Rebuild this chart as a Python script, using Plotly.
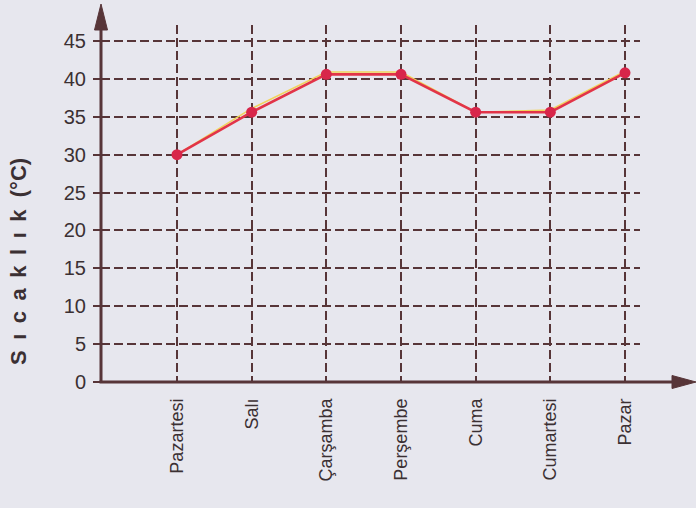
import plotly.graph_objects as go

days = ["Pazartesi", "Salı", "Çarşamba", "Perşembe", "Cuma", "Cumartesi", "Pazar"]
temps = [30, 35.6, 40.6, 40.6, 35.6, 35.6, 40.8]
yellow_offset = [0.0, 0.5, 0.3, 0.3, 0.0, 0.3, 0.2]
y_ticks = [0, 5, 10, 15, 20, 25, 30, 35, 40, 45]
y_title_letters = ["S", "ı", "c", "a", "k", "l", "ı", "k", "(°C)"]

BG = "#e7e7ee"
AX = "#573538"
TXT = "#3b3033"

# plot area in pixels
L, R, T, B = 101, 640, 25, 382
W, H = R - L, B - T

def px(x):
    return (x - L) / W

def py(y):
    return (B - y) / H

fig = go.Figure()
fig.add_trace(go.Scatter(
    x=days, y=[t + o for t, o in zip(temps, yellow_offset)], mode="lines",
    line=dict(color="#f2d35a", width=1.6), hoverinfo="skip", showlegend=False))
fig.add_trace(go.Scatter(
    x=days, y=temps, mode="lines+markers",
    line=dict(color="#e23448", width=2.6),
    marker=dict(color="#d8264a", size=11),
    showlegend=False))

step = (625 - 177) / 6
x_lo = (L - 177) / step
x_hi = (R - 177) / step
y_hi = (B - T) / ((382 - 41) / 45)

shapes = [
    dict(type="line", xref="paper", yref="paper", x0=0, x1=0, y0=0, y1=py(22),
         line=dict(color=AX, width=3)),
    dict(type="path", xref="paper", yref="paper",
         path=f"M {px(101)} {py(4)} L {px(94.5)} {py(30)} L {px(107.5)} {py(30)} Z",
         fillcolor=AX, line=dict(color=AX, width=1)),
    dict(type="line", xref="paper", yref="paper", x0=px(99.5), x1=px(678), y0=0, y1=0,
         line=dict(color=AX, width=3)),
    dict(type="path", xref="paper", yref="paper",
         path=f"M {px(696)} {py(382)} L {px(672)} {py(375.5)} L {px(672)} {py(388.5)} Z",
         fillcolor=AX, line=dict(color=AX, width=1)),
]

title_text = "<b>" + " \u2009".join(y_title_letters[:-1]) + "  " + y_title_letters[-1] + "</b>"

fig.update_layout(
    width=696, height=508,
    margin=dict(l=L, r=696 - R, t=T, b=508 - B),
    paper_bgcolor=BG, plot_bgcolor=BG,
    font=dict(family="Liberation Sans, Arial, sans-serif", color=TXT),
    shapes=shapes,
    annotations=[dict(
        text=title_text, textangle=-90, showarrow=False,
        xref="paper", yref="paper", x=px(18), y=py(262),
        xanchor="center", yanchor="middle",
        font=dict(size=22, color=TXT))],
    xaxis=dict(
        type="category", categoryorder="array", categoryarray=days,
        range=[x_lo, x_hi], showline=False, zeroline=False,
        showgrid=True, gridcolor=AX, gridwidth=2.2, griddash="9px,4px",
        ticks="", tickangle=-90, tickfont=dict(size=18, color=TXT),
        ticklabelstandoff=12,
    ),
    yaxis=dict(
        range=[0, y_hi], tickvals=y_ticks, showline=False, zeroline=False,
        showgrid=True, gridcolor=AX, gridwidth=2.2, griddash="9px,4px",
        ticks="outside", ticklen=7, tickwidth=2, tickcolor=AX,
        tickfont=dict(size=20, color=TXT), ticklabelstandoff=3,
    ),
)

fig.write_html(
    "out.html",
    config={"displayModeBar": False},
    post_script="document.body.style.margin='0';document.body.style.background='#e7e7ee';",
)
